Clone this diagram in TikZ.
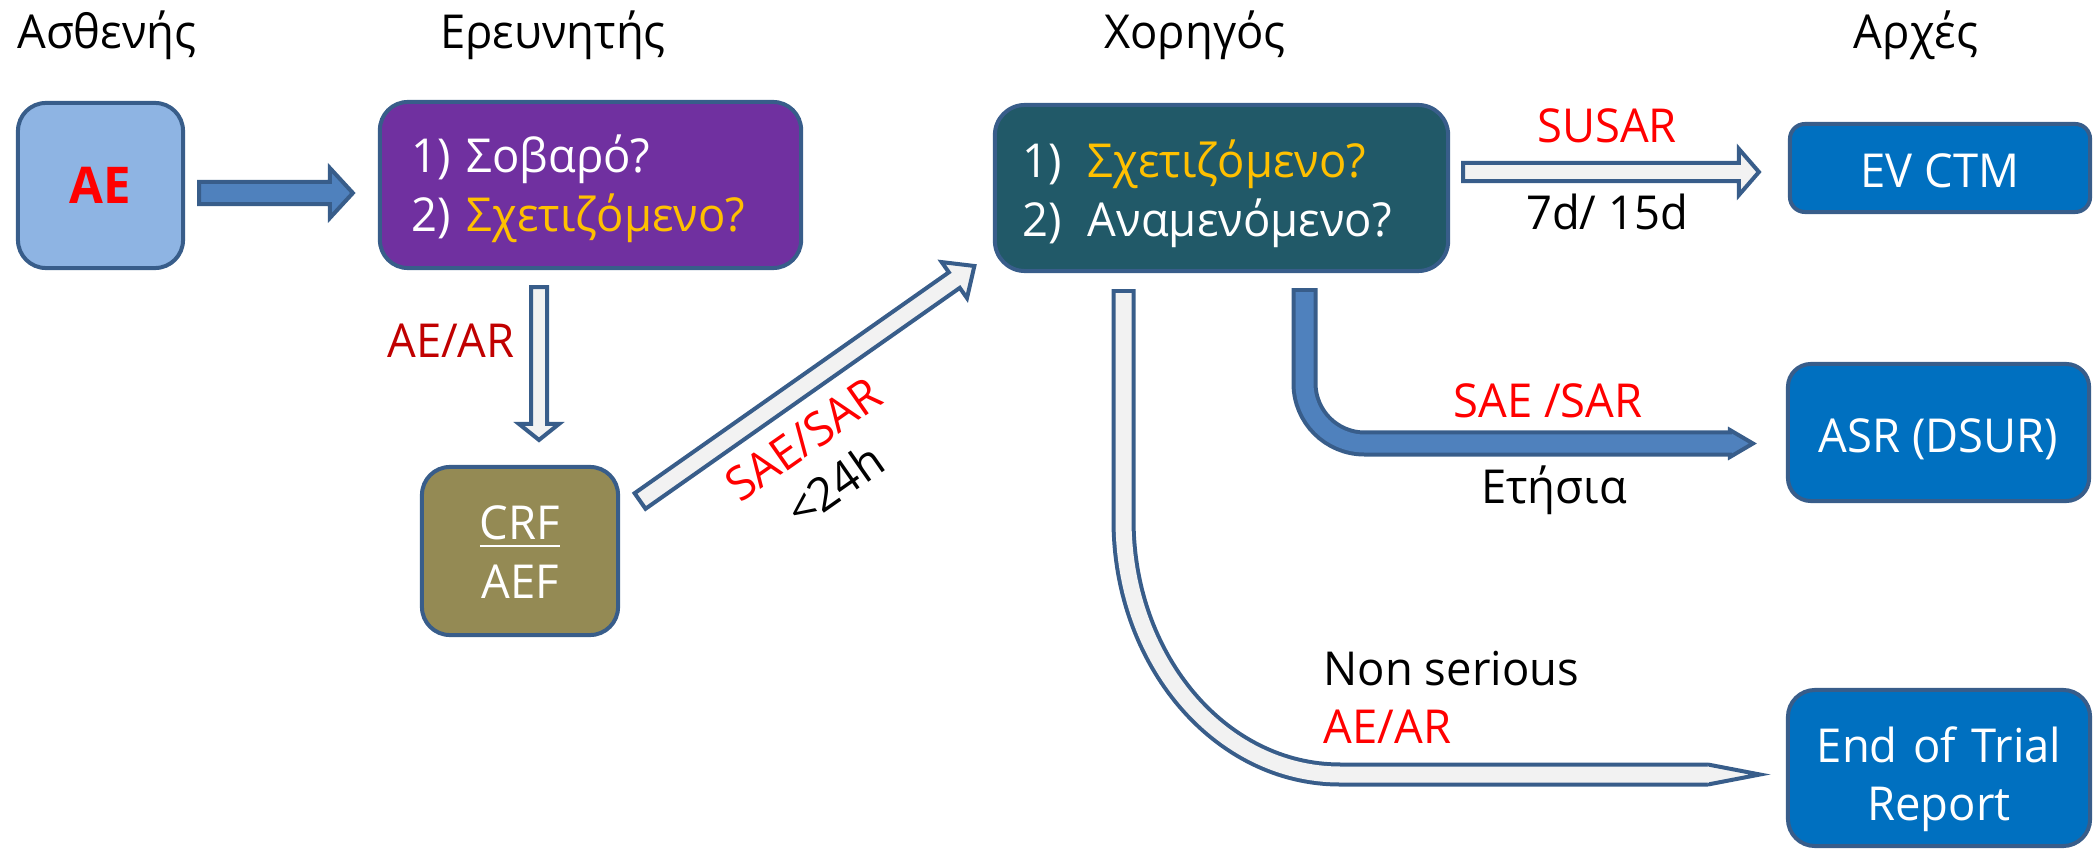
\documentclass[tikz,border=0pt]{standalone}
\usepackage{fontspec}
\setmainfont[FakeStretch=0.97]{Open Sans}
\usetikzlibrary{calc}

\definecolor{edge}{HTML}{385D8A}
\definecolor{aefill}{HTML}{8EB4E3}
\definecolor{arrowblue}{HTML}{4F81BD}
\definecolor{arrowpale}{HTML}{F2F2F2}
\definecolor{purplebox}{HTML}{7030A0}
\definecolor{tealbox}{HTML}{215968}
\definecolor{olivebox}{HTML}{948A54}
\definecolor{bluebox}{HTML}{0070C0}
\definecolor{gold}{HTML}{FFC000}
\definecolor{darkred}{HTML}{C00000}
\definecolor{brightred}{HTML}{FF0000}

% underline with a chosen offset and thickness
\newcommand\ulword[1]{\setbox0\hbox{#1}\rlap{\rule[-2.1pt]{\wd0}{0.8pt}}\box0}

% straight block arrow: style, from, to, shaft half-width, head half-width, head length
\newcommand\blockarrow[6]{%
  \coordinate (bah) at ($(#3)!#6!(#2)$);
  \path[#1] ($(#2)!#4!90:(#3)$) -- ($(bah)!#4!90:(#3)$) -- ($(bah)!#5!90:(#3)$)
    -- (#3) -- ($(bah)!#5!-90:(#3)$) -- ($(bah)!#4!-90:(#3)$)
    -- ($(#2)!#4!-90:(#3)$) -- cycle;}

\begin{document}
\begin{tikzpicture}[x=0.01cm, y=-0.01cm,
  every node/.style={font=\fontsize{13.3pt}{16.5pt}\selectfont, inner sep=0pt},
  box/.style={draw=edge, line width=0.04cm},
  bluebx/.style={box, fill=bluebox, text=white},
  blockA/.style={fill=arrowblue, draw=edge, line width=0.04cm, line join=miter},
  blockB/.style={fill=arrowpale, draw=edge, line width=0.04cm, line join=miter},
  hdr/.style={anchor=base}]
\useasboundingbox (0,0) rectangle (2098,852);

% column headings
\node[hdr] (hpat) at (107,49) {Ασθενής};
\node[hdr] (hinv) at (553,49) {Ερευνητής};
\node[hdr] (hspo) at (1195,49) {Χορηγός};
\node[hdr] (hauth) at (1916,49) {Αρχές};

% boxes
\node[box, fill=aefill, rounded corners=0.28cm, minimum width=1.65cm, minimum height=1.65cm,
      text=brightred, font=\fontsize{14.4pt}{16pt}\selectfont\bfseries,
      text height=0.35cm, text depth=0pt] (ae) at (100.5,185.5) {AE};

\node[box, fill=purplebox, rounded corners=0.28cm, minimum width=4.21cm, minimum height=1.66cm,
      text width=3.57cm, inner xsep=0.32cm, align=left, text=white,
      text height=0.35cm, text depth=0.59cm] (inv) at (590.5,185)
      {1) Σοβαρό?\\2) \textcolor{gold}{Σχετιζόμενο?}};

\node[box, fill=olivebox, rounded corners=0.28cm, minimum width=1.96cm, minimum height=1.68cm,
      text width=1.96cm, align=center, text=white,
      text height=0.35cm, text depth=0.57cm] (crf) at (520,551) {\ulword{CRF}\\AEF};

\node[box, fill=tealbox, rounded corners=0.3cm, minimum width=4.53cm, minimum height=1.66cm,
      text width=3.97cm, inner xsep=0.28cm, align=left, text=white,
      text height=0.35cm, text depth=0.55cm] (sponsor) at (1221.5,188)
      {\makebox[0.65cm][l]{1)}\textcolor{gold}{Σχετιζόμενο?}\\\makebox[0.65cm][l]{2)}Αναμενόμενο?};

\node[bluebx, rounded corners=0.15cm, minimum width=3.0cm, minimum height=0.88cm,
      text height=0.38cm, text depth=0pt] (ev) at (1940,168) {EV CTM};
\node[bluebx, rounded corners=0.23cm, minimum width=3.01cm, minimum height=1.37cm,
      text height=0.39cm, text depth=0pt] (asr) at (1938.5,432.5) {ASR (DSUR)};
\node[bluebx, rounded corners=0.27cm, minimum width=3.02cm, minimum height=1.56cm,
      text width=3.02cm, align=center,
      text height=0.35cm, text depth=0.47cm] (eot) at (1939,768) {End of Trial\\Report};

% straight block arrows
\coordinate (a1s) at ($(ae.east)+(14,7.5)$);
\coordinate (a1e) at ($(inv.west)+(-25,8)$);
\blockarrow{blockA}{a1s}{a1e}{0.11cm}{0.25cm}{0.23cm}

\coordinate (a2s) at ($(inv.south)+(-51.5,17)$);
\coordinate (a2e) at ($(crf.north)+(19,-25)$);
\blockarrow{blockB}{a2s}{a2e}{0.08cm}{0.2cm}{0.16cm}

\coordinate (a3s) at ($(crf.east)+(20,-50)$);
\coordinate (a3e) at ($(sponsor.west)+(-18.5,78)$);
\blockarrow{blockB}{a3s}{a3e}{0.095cm}{0.22cm}{0.245cm}

\coordinate (a4s) at ($(sponsor.east)+(13,-16)$);
\coordinate (a4e) at ($(ev.west)+(-29,4)$);
\blockarrow{blockB}{a4s}{a4e}{0.09cm}{0.23cm}{0.2cm}

% bent arrow to the annual report
\coordinate (b1) at ($(sponsor.south)+(83,15)$);
\coordinate (b2) at ($(asr.west)+(-56,11)$);
\coordinate (b3) at ($(asr.west)+(-33,11)$);
\draw[edge, line width=0.26cm, rounded corners=0.6cm] (b1) |- (b2);
\filldraw[blockA] ($(b2)+(0,-13.5)$) -- (b3) -- ($(b2)+(0,13.5)$) -- cycle;
\draw[arrowblue, line width=0.18cm, rounded corners=0.6cm] ($(b1)+(0,4)$) |- ($(b2)+(2,0)$);

% curved arrow to the end of trial report
\coordinate (c1) at ($(sponsor.south)+(-98,16)$);
\coordinate (c2) at ($(eot.west)+(-78,6.5)$);
\coordinate (c3) at ($(eot.west)+(-26,6.5)$);
\coordinate (cb) at (1123.5,520);
\coordinate (cq) at (1340,774.5);
\draw[edge, line width=0.24cm] (c1) -- (cb) .. controls (1123.5,660.6) and (1220.4,774.5) .. (cq) -- (c2);
\filldraw[fill=arrowpale, draw=edge, line width=0.04cm, line join=miter]
  ($(c2)+(0,-10)$) -- (c3) -- ($(c2)+(0,10)$);
\draw[arrowpale, line width=0.16cm] ($(c1)+(0,4)$) -- (cb) .. controls (1123.5,660.6) and (1220.4,774.5) .. (cq) -- ($(c2)+(1,0)$);

% arrow labels
\node[anchor=base, text=darkred] (l-aear) at (451,357) {AE/AR};
\node[rotate=35, align=center, font=\fontsize{13.3pt}{15.9pt}\selectfont] (l-saesar) at (819,462)
  {\textcolor{brightred}{SAE/SAR}\\<24h};
\node[anchor=base, text=brightred] (l-susar) at (1607,143) {SUSAR};
\node[anchor=base] (l-7d) at (1607,230) {7d/ 15d};
\node[anchor=base, text=brightred] (l-saesar2) at (1548,417) {SAE /SAR};
\node[anchor=base] (l-annual) at (1554,503) {Ετήσια};
\node[anchor=base west] (l-nonser) at (1323,685) {Non serious};
\node[anchor=base west, text=brightred] (l-aear2) at (1323,743) {AE/AR};
\end{tikzpicture}
\end{document}
